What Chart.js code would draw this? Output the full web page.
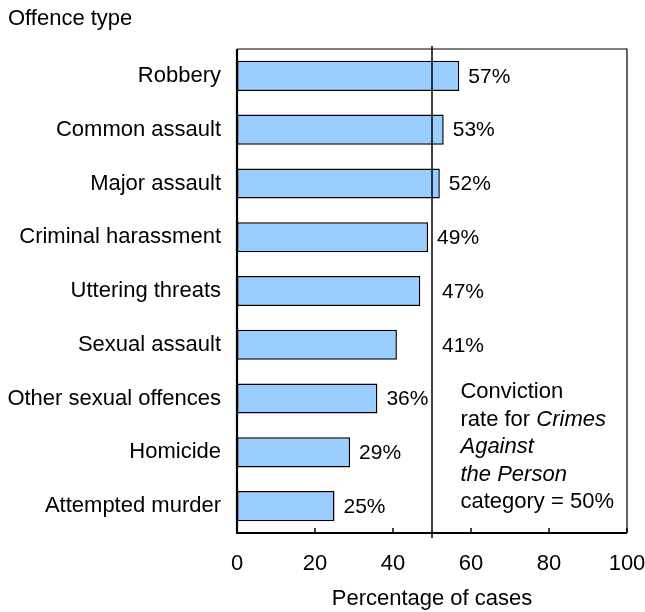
<!DOCTYPE html>
<html lang="en">
<head>
<meta charset="UTF-8">
<title>Conviction rates by offence type</title>
<script src="https://cdn.jsdelivr.net/npm/chart.js"></script>
<style>
    html, body { margin: 0; padding: 0; background: #fff; }
    #chart { display: block; }
</style>
</head>
<body>
<canvas id="chart" width="645" height="612"></canvas>
<script>
    // Data
    const offenceTypes = [
        'Robbery',
        'Common assault',
        'Major assault',
        'Criminal harassment',
        'Uttering threats',
        'Sexual assault',
        'Other sexual offences',
        'Homicide',
        'Attempted murder'
    ];
    const convictionRates = [57, 53, 52, 49, 47, 41, 36, 29, 25];
    const categoryRate = 50;
    const xTickValues = [0, 20, 40, 60, 80, 100];
    const noteLines = [
        [['Conviction', false]],
        [['rate for ', false], ['Crimes', true]],
        [['Against', true]],
        [['the Person', true]],
        [['category = 50%', false]]
    ];

    const FONT = 'Arial, "Liberation Sans", sans-serif';

    // Frame, reference line, inner ticks, value labels and note
    const decorations = {
        id: 'decorations',
        afterDatasetsDraw(chart) {
            const { ctx, chartArea: a, scales: { x } } = chart;
            ctx.save();
            ctx.strokeStyle = '#000';

            // thin top/right frame
            ctx.lineWidth = 1.2;
            ctx.beginPath();
            ctx.moveTo(a.left, a.top);
            ctx.lineTo(a.right, a.top);
            ctx.lineTo(a.right, a.bottom);
            ctx.stroke();

            // heavier axes
            ctx.lineWidth = 2.2;
            ctx.beginPath();
            ctx.moveTo(a.left, a.top);
            ctx.lineTo(a.left, a.bottom);
            ctx.lineTo(a.right, a.bottom);
            ctx.stroke();

            // tick marks pointing into the plot
            ctx.lineWidth = 1.5;
            xTickValues.forEach(v => {
                const px = x.getPixelForValue(v);
                ctx.beginPath();
                ctx.moveTo(px, a.bottom);
                ctx.lineTo(px, a.bottom - 5);
                ctx.stroke();
            });

            // category-wide conviction rate
            const refX = x.getPixelForValue(categoryRate);
            ctx.lineWidth = 1.5;
            ctx.beginPath();
            ctx.moveTo(refX, a.top - 3);
            ctx.lineTo(refX, a.bottom + 5);
            ctx.stroke();

            // value labels
            ctx.fillStyle = '#000';
            ctx.font = '21px ' + FONT;
            ctx.textBaseline = 'middle';
            ctx.textAlign = 'left';
            const meta = chart.getDatasetMeta(0);
            meta.data.forEach((bar, i) => {
                const txt = convictionRates[i] + '%';
                const w = ctx.measureText(txt).width;
                let lx = bar.x + 9;
                if (lx < refX && lx + w > refX - 2) lx = refX + 10;
                ctx.fillText(txt, lx, bar.y + 1);
            });

            // note
            const noteX = x.getPixelForValue(57.3);
            let noteY = a.top + 343;
            noteLines.forEach(line => {
                let cx = noteX;
                line.forEach(([t, italic]) => {
                    ctx.font = (italic ? 'italic ' : '') + '22px ' + FONT;
                    ctx.fillText(t, cx, noteY);
                    cx += ctx.measureText(t).width;
                });
                noteY += 27.5;
            });

            // axis heading top-left
            ctx.font = '22px ' + FONT;
            ctx.fillText('Offence type', 8, 19);
            ctx.restore();
        }
    };

    new Chart(document.getElementById('chart'), {
        type: 'bar',
        data: {
            labels: offenceTypes,
            datasets: [{
                data: convictionRates,
                backgroundColor: '#99CCFF',
                borderColor: '#000',
                borderWidth: 1.5,
                borderSkipped: false,
                barPercentage: 0.56,
                categoryPercentage: 1
            }]
        },
        options: {
            indexAxis: 'y',
            responsive: false,
            animation: false,
            layout: { padding: { top: 49, right: 18, left: 0, bottom: 0 } },
            plugins: {
                legend: { display: false },
                tooltip: { enabled: false }
            },
            scales: {
                x: {
                    min: 0,
                    max: 100,
                    afterFit: s => { s.height = 79; s.paddingRight = 0; s.paddingLeft = 0; },
                    afterBuildTicks: s => { s.ticks = xTickValues.map(v => ({ value: v })); },
                    grid: { display: false },
                    border: { display: false },
                    ticks: {
                        color: '#000',
                        font: { family: FONT, size: 22 },
                        padding: 10,
                        maxRotation: 0
                    },
                    title: {
                        display: true,
                        text: 'Percentage of cases',
                        color: '#000',
                        font: { family: FONT, size: 22 },
                        padding: { top: 0, bottom: 0 }
                    }
                },
                y: {
                    afterFit: s => { s.width = 237; },
                    grid: { display: false },
                    border: { display: false },
                    ticks: {
                        color: '#000',
                        font: { family: FONT, size: 22 },
                        padding: 8
                    }
                }
            }
        },
        plugins: [decorations]
    });
</script>
</body>
</html>
